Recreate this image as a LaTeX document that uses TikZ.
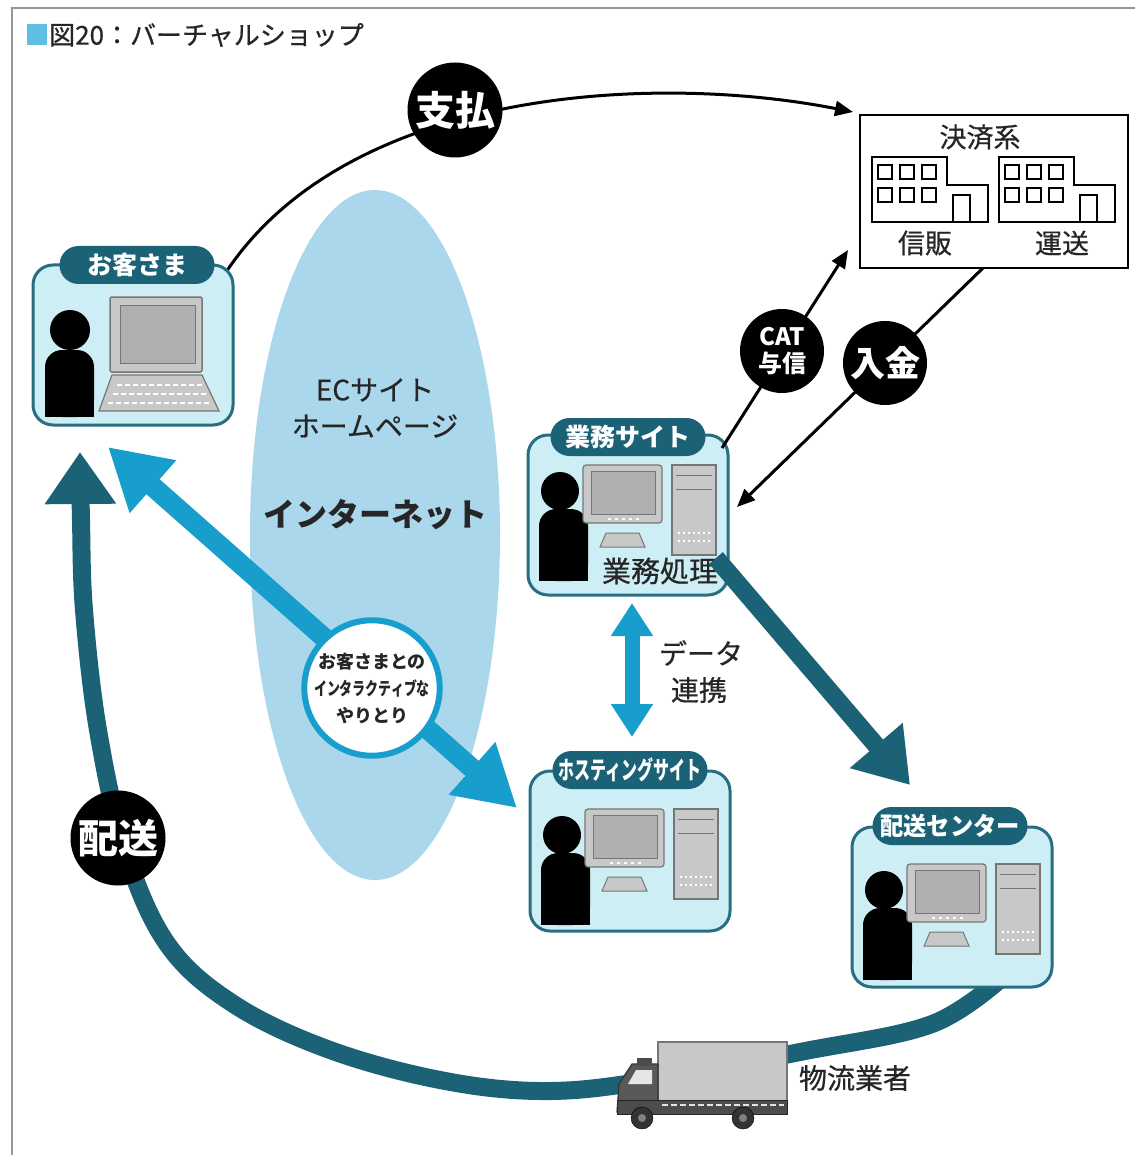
\documentclass[tikz,border=0pt]{standalone}
\usepackage{fontspec}
\usepackage{graphicx}
\setmainfont{Noto Sans CJK JP}
\newfontfamily\medfont{Noto Sans CJK JP}[FakeBold=0.6]
\usetikzlibrary{arrows.meta,shapes.geometric}

\definecolor{tealdk}{RGB}{28,98,118}
\definecolor{tealbd}{RGB}{38,110,128}
\definecolor{boxfill}{RGB}{206,238,246}
\definecolor{netblue}{RGB}{170,215,235}
\definecolor{cyanar}{RGB}{24,158,204}
\definecolor{pcgray}{RGB}{200,200,200}
\definecolor{pcdark}{RGB}{118,118,118}
\definecolor{scrgray}{RGB}{176,176,176}
\definecolor{framegray}{RGB}{150,150,150}
\definecolor{titlesq}{RGB}{95,190,225}

\newcommand{\jfs}[1]{\fontsize{#1}{#1}\selectfont}

\tikzset{
  sitebox/.style={draw=tealbd, line width=3pt, fill=boxfill, rounded corners=20pt,
    minimum width=200pt, minimum height=160pt, inner sep=0pt},
  sitetab/.style={fill=tealdk, text=white, rounded corners=19pt, minimum width=155pt,
    minimum height=38pt, inner sep=0pt, font=\bfseries\jfs{25}},
  badge/.style={circle, fill=black, text=white, inner sep=0pt, align=center},
  thinarrow/.style={draw=black, line width=3pt, -{Triangle[length=18pt,width=15pt]}},
  label/.style={text=black!85, inner sep=0pt, font=\medfont\jfs{28}},
  desktop/.pic={
    % operator
    \fill[black] (-68,-18) circle[radius=19pt];
    \fill[black, rounded corners=17pt] (-89,0) rectangle (-40,72);
    \fill[black] (-89,30) rectangle (-40,72);
    % monitor
    \filldraw[fill=pcgray, draw=pcdark, line width=1.2pt, rounded corners=3pt] (-45,-44) rectangle (34,14);
    \filldraw[fill=scrgray, draw=pcdark, line width=1pt] (-37,-38) rectangle (27,5);
    \draw[white, line width=1.5pt, dash pattern=on 3pt off 4pt] (-20,10) -- (15,10);
    % keyboard
    \filldraw[fill=pcgray, draw=pcdark, line width=1pt] (-22,24) -- (11,24) -- (17,38) -- (-28,38) -- cycle;
    % tower
    \filldraw[fill=pcgray, draw=pcdark, line width=1.2pt] (44,-44) rectangle (88,46);
    \draw[pcdark, line width=1pt] (48,-34) -- (84,-34) (48,-20) -- (84,-20);
    \draw[white, line width=1.2pt, dash pattern=on 2pt off 3pt] (50,24) -- (84,24) (50,32) -- (84,32);
  },
  laptop/.pic={
    \fill[black] (-63,-15) circle[radius=20pt];
    \fill[black, rounded corners=17pt] (-88,5) rectangle (-39,72);
    \fill[black] (-88,35) rectangle (-39,72);
    \filldraw[fill=pcgray, draw=pcdark, line width=1.5pt, rounded corners=2pt] (-23,-48) rectangle (69,27);
    \filldraw[fill=scrgray, draw=pcdark, line width=1pt] (-13,-40) rectangle (62,18);
    \filldraw[fill=pcgray, draw=pcdark, line width=1.2pt] (-21,30) -- (69,30) -- (86,66) -- (-34,66) -- cycle;
    \draw[white, line width=2pt, dash pattern=on 5pt off 3pt] (-16,40) -- (70,40) (-20,49) -- (74,49) (-25,58) -- (79,58);
  },
  bldg/.pic={
    \filldraw[fill=white, draw=black, line width=2.5pt] (0,0) -- (75,0) -- (75,28) -- (116,28) -- (116,65) -- (0,65) -- cycle;
    \foreach \i in {0,1,2} \foreach \j in {0,1}
      \draw[line width=2pt] (6+22*\i, 8+23*\j) rectangle ++(14,14);
    \draw[line width=2pt] (81,38) rectangle (98,65);
  }
}

\begin{document}
\begin{tikzpicture}[x=1pt, y=-1pt]
\useasboundingbox (0,0) rectangle (1135,1155);
\fill[white] (0,0) rectangle (1135,1155);

% frame and title
\draw[framegray, line width=2.5pt] (12,1155) -- (12,8) -- (1135,8);
\fill[titlesq] (27,24) rectangle (47,45);
\node[anchor=west, inner sep=0pt, text=black!85, font=\medfont\jfs{26}] (title) at (49,35) {図20：バーチャルショップ};

% internet
\node[ellipse, fill=netblue, minimum width=250pt, minimum height=690pt, inner sep=0pt] (net) at (375,535) {};
\node[label] (ec) at (375,390) {ECサイト};
\node[label] (hp) at (375,426) {ホームページ};
\node[label, font=\bfseries\jfs{32}] (inet) at (375,515) {インターネット};

% delivery route (drawn under the boxes)
\coordinate (dstart) at (1005,975);
\coordinate (dend) at (80,452);
\draw[tealdk, line width=18pt, -{Triangle[width=68pt,length=52pt]}]
  plot[smooth, tension=0.6] coordinates {(dstart) (932,1024) (800,1052) (640,1082) (540,1091) (440,1080) (330,1050) (235,1005) (168,945) (125,850) (98,730) (84,610) (81,520) (dend)};

% payment curve
\coordinate (pay0) at (215,290);
\coordinate (pay1) at (853,112);
\draw[thinarrow] (pay0) .. controls (330,88) and (650,72) .. (pay1);

% sites
\node[sitebox] (kyaku) at (133,345) {};
\pic at (133,345) {laptop};
\node[sitetab] (kyakutab) at (137,265) {お客さま};

\node[sitebox] (gyomu) at (628,515) {};
\pic at (628,509) {desktop};
\node[sitetab] (gyomutab) at (628,437) {業務サイト};
\node[label, font=\medfont\jfs{29}] (shori) at (660,571) {業務処理};

\node[sitebox] (host) at (630,851) {};
\pic at (630,853) {desktop};
\node[sitetab] (hosttab) at (630,770) {\scalebox{0.64}[1]{ホスティングサイト}};

\node[sitebox] (center) at (952,907) {};
\pic at (952,908) {desktop};
\node[sitetab] (centertab) at (950,826) {\scalebox{0.93}[1]{配送センター}};

% settlement
\node[draw=black, line width=2.5pt, fill=white, minimum width=268pt, minimum height=153pt, inner sep=0pt] (kessai) at (994,191.5) {};
\node[label, font=\medfont\jfs{27}] (kessaittl) at (980,137) {決済系};
\pic at (872,157) {bldg};
\pic at (999,157) {bldg};
\node[label, font=\medfont\jfs{27}] (shinpan) at (925,243) {信販};
\node[label, font=\medfont\jfs{27}] (unso) at (1062,243) {運送};

% business site to delivery center
\coordinate (g0) at (716,558);
\coordinate (c0) at (910,785);
\draw[tealdk, line width=18pt, -{Triangle[width=66pt,length=52pt]}] (g0) -- (c0);

% data link
\coordinate (dl0) at (632,603);
\coordinate (dl1) at (632,737);
\draw[cyanar, line width=15pt, {Triangle[width=40pt,length=33pt]}-{Triangle[width=40pt,length=33pt]}] (dl0) -- (dl1);
\node[label] (data1) at (701,653) {データ};
\node[label] (data2) at (699,690) {連携};

% interaction arrow
\coordinate (ia0) at (108,447);
\coordinate (ia1) at (517,808);
\draw[cyanar, line width=20pt, {Triangle[width=66pt,length=60pt]}-{Triangle[width=66pt,length=60pt]}] (ia0) -- (ia1);
\node[circle, draw=cyanar, line width=6pt, fill=white, minimum size=134pt, inner sep=0pt, align=center,
      font=\bfseries\fontsize{18}{27}\selectfont, text=black!85] (talk) at (372,688)
  {お客さまとの\\\scalebox{0.72}[1]{インタラクティブな}\\やりとり};

% authorization and deposit
\coordinate (cat0) at (722,448);
\coordinate (cat1) at (848,250);
\draw[thinarrow] (cat0) -- (cat1);
\coordinate (dep0) at (983,268);
\coordinate (dep1) at (737,507);
\draw[thinarrow] (dep0) -- (dep1);

% truck
\filldraw[fill=pcgray, draw=pcdark, line width=1.5pt] (658,1042) rectangle (787,1102);
\filldraw[fill=black!65, draw=black!80, line width=1.2pt] (658,1064) -- (632,1064) -- (619,1084) -- (617,1112) -- (658,1112) -- cycle;
\fill[black!70] (637,1058) rectangle (652,1066);
\fill[white!80!gray] (636,1070) -- (652,1070) -- (652,1084) -- (628,1084) -- cycle;
\filldraw[fill=black!70, draw=black!85, line width=1pt] (617,1100) rectangle (787,1114);
\draw[white!80!gray, line width=1.5pt, dash pattern=on 6pt off 3pt] (662,1105) -- (784,1105);
\filldraw[fill=black!80, draw=black] (642,1118) circle[radius=11pt];
\filldraw[fill=black!80, draw=black] (743,1118) circle[radius=11pt];
\fill[gray] (642,1118) circle[radius=4pt];
\fill[gray] (743,1118) circle[radius=4pt];
\node[label, font=\medfont\jfs{28}] (truck) at (855,1078) {物流業者};

% badges
\node[badge, minimum size=95pt, font=\bfseries\jfs{40}] (pay) at (455,110) {支払};
\node[badge, minimum size=84pt, font=\bfseries\fontsize{24}{27}\selectfont] (cat) at (782,351) {CAT\\与信};
\node[badge, minimum size=84pt, font=\bfseries\jfs{35}] (dep) at (885,363) {入金};
\node[badge, minimum size=95pt, font=\bfseries\jfs{40}] (deliv) at (118,838) {配送};
\end{tikzpicture}
\end{document}
